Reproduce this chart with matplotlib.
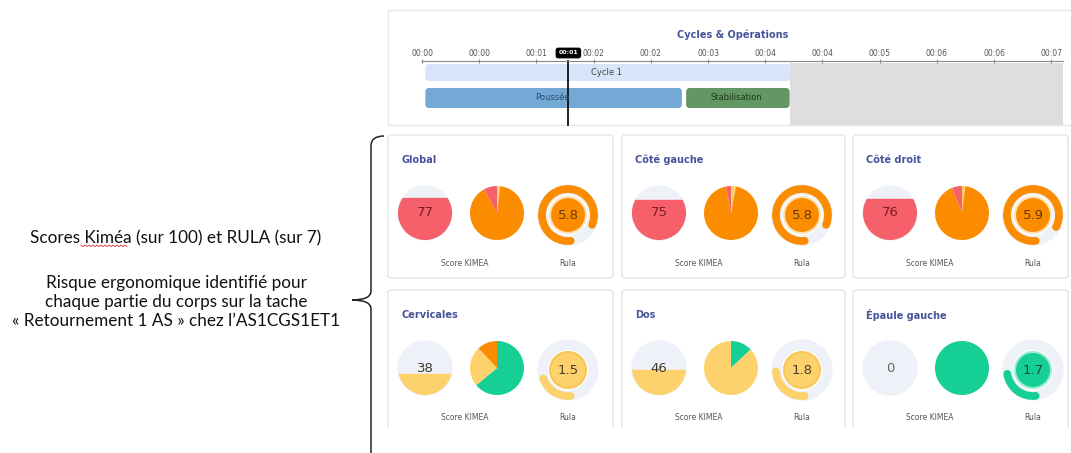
import matplotlib.pyplot as plt
from matplotlib.patches import Rectangle, FancyBboxPatch, Circle, Wedge, Arc, PathPatch
from matplotlib.path import Path

# ---- data ----
tick_times = [0.00, 0.68, 1.36, 2.04, 2.72, 3.40, 4.08, 4.76, 5.44, 6.12, 6.80, 7.48]
tick_labels = ['00:00', '00:00', '00:01', '00:02', '00:02', '00:03',
               '00:04', '00:04', '00:05', '00:06', '00:06', '00:07']
t_max = 7.62
cycle_names = ['Cycle 1']
cycle_start = [0.0]
cycle_end = [4.38]
op_names = ['Poussée', 'Stabilisation']
op_start = [0.0, 3.10]
op_end = [3.10, 4.38]
cursor_t = 1.74
cursor_label = '00:01'

card_titles = ['Global', 'Côté gauche', 'Côté droit', 'Cervicales', 'Dos', 'Épaule gauche']
kimea_scores = [77, 75, 76, 38, 46, 0]
rula_scores = [5.8, 5.8, 5.9, 1.5, 1.8, 1.7]
rula_max = 7
# pie shares, clockwise from 12 o'clock: green, yellow, orange, red
pie_green = [0, 0, 0, 64, 13, 100]
pie_yellow = [2, 3, 2, 24, 87, 0]
pie_orange = [90, 94, 92, 12, 0, 0]
pie_red = [8, 3, 6, 0, 0, 0]

# ---- styles ----
GREEN, YELLOW, ORANGE, RED = '#16cf94', '#fdd26c', '#fb8c00', '#f6606a'
LIGHT = '#eef2f8'
score_colors = [RED, RED, RED, YELLOW, YELLOW, YELLOW]
score_text = ['#7d1d22', '#7d1d22', '#7d1d22', '#403a30', '#403a30', '#666666']
rula_colors = [ORANGE, ORANGE, ORANGE, YELLOW, YELLOW, GREEN]
rula_edges = ['#ffe2b5', '#ffe2b5', '#ffe2b5', '#f7c757', '#f7c757', '#9eeccf']
rula_text = ['#6b3a05', '#6b3a05', '#6b3a05', '#4a4024', '#4a4024', '#0d4f37']
TITLE_C = '#44539a'

W, H = 1071, 453
fig = plt.figure(figsize=(W / 100, H / 100), dpi=100)
ax = fig.add_axes([0, 0, 1, 1])
ax.set_xlim(0, W)
ax.set_ylim(H, 0)
ax.axis('off')


def px_axes(cx, cy, half):
    a = fig.add_axes([(cx - half) / W, 1 - (cy + half) / H, 2 * half / W, 2 * half / H])
    a.set_xlim(-half, half)
    a.set_ylim(-half, half)
    a.set_aspect('equal')
    a.axis('off')
    return a


# ---- left annotation ----
ax.text(176, 238, 'Scores Kiméa (sur 100) et RULA (sur 7)', ha='center', va='center',
        fontsize=12.3, family='Lato', color='#111111')
ax.text(176, 302, 'Risque ergonomique identifié pour\nchaque partie du corps sur la tache\n'
        '« Retournement 1 AS » chez l’AS1CGS1ET1', ha='center', va='center',
        fontsize=12.3, family='Lato', color='#111111', linespacing=1.22)
# spell-check squiggle under "Kiméa"
zx = [81 + 2 * k for k in range(24)]
zy = [245 + (k % 2) * 1.6 for k in range(24)]
ax.plot(zx, zy, color='#e03030', lw=0.6)

# curly bracket
verts = [(384, 136), (371, 136), (371, 146), (371, 291), (371, 300), (352, 300),
         (352, 300), (371, 300), (371, 309), (371, 460)]
codes = [Path.MOVETO, Path.CURVE3, Path.CURVE3, Path.LINETO, Path.CURVE3, Path.CURVE3,
         Path.MOVETO, Path.CURVE3, Path.CURVE3, Path.LINETO]
ax.add_patch(PathPatch(Path(verts, codes), fill=False, lw=1.1, color='#222222'))

# ---- timeline panel ----
ax.add_patch(Rectangle((388, 10), 690, 115, facecolor='white', edgecolor='#e4e7ed', lw=1))
ax.text(733, 35, 'Cycles & Opérations', ha='center', va='center', fontsize=7,
        fontweight='bold', color=TITLE_C)

x0t, x1t = 422, 1063
px_per_s = (x1t - x0t) / t_max
ax_t = fig.add_axes([x0t / W, 1 - 125 / H, (x1t - x0t) / W, (125 - 61) / H])
ax_t.set_xlim(0, t_max)
ax_t.set_ylim(125, 61)
ax_t.patch.set_alpha(0)
for s in ['bottom', 'left', 'right']:
    ax_t.spines[s].set_visible(False)
ax_t.spines['top'].set_color('#8a8a8a')
ax_t.xaxis.tick_top()
ax_t.set_xticks(tick_times)
ax_t.set_xticklabels(tick_labels)
ax_t.tick_params(axis='x', labelsize=5.5, labelcolor='#555555', color='#8a8a8a',
                 length=3, direction='inout', pad=1)
ax_t.set_yticks([])

ax_t.axvspan(cycle_end[-1], t_max, ymin=0, ymax=0.97, color='#dedede', lw=0)


def tl_bar(s, e, yc, h, color):
    ax_t.add_patch(FancyBboxPatch((s, yc - h / 2), e - s, h,
                                  boxstyle='round,pad=0,rounding_size=0.045',
                                  mutation_aspect=px_per_s, facecolor=color, lw=0))


for name, s, e in zip(cycle_names, cycle_start, cycle_end):
    tl_bar(s + 0.04, e, 72.5, 17, '#d6e6f8')
    ax_t.text((s + e) / 2, 72.5, name, ha='center', va='center', fontsize=6, color='#444444')
op_colors = ['#74a9d6', '#629662']
op_text = ['#2b4a66', '#1f3a20']
for name, s, e, c, tc in zip(op_names, op_start, op_end, op_colors, op_text):
    tl_bar(s + 0.04, e - 0.01, 98, 20, c)
    ax_t.text((s + e) / 2, 98, name, ha='center', va='center', fontsize=6, color=tc)

ax_t.plot([cursor_t, cursor_t], [61, 125], color='#111111', lw=1.3, clip_on=False)
ax_t.text(cursor_t, 53, cursor_label, ha='center', va='center', fontsize=4.5,
          color='white', fontweight='bold', clip_on=False,
          bbox=dict(boxstyle='round,pad=0.35,rounding_size=0.3', fc='black', ec='black'))

# ---- score cards ----
card_x = [388, 622, 853]
card_w = [225, 223, 215]
row_y = [135, 290]
row_h = [143, 160]

for i, title in enumerate(card_titles):
    r, c = divmod(i, 3)
    x0, y0 = card_x[c], row_y[r]
    ax.add_patch(FancyBboxPatch((x0, y0), card_w[c], row_h[r],
                                boxstyle='round,pad=0,rounding_size=3',
                                facecolor='white', edgecolor='#e2e5eb', lw=1))
    ax.text(x0 + 13, y0 + 25, title, ha='left', va='center', fontsize=7,
            fontweight='bold', color=TITLE_C)
    cy = y0 + 78

    # KIMEA score: filled disc
    a = px_axes(x0 + 37, cy, 30)
    bg = Circle((0, 0), 27, color=LIGHT)
    a.add_patch(bg)
    fill = Rectangle((-27, -27), 54, 54 * kimea_scores[i] / 100, color=score_colors[i])
    a.add_patch(fill)
    fill.set_clip_path(bg)
    a.text(0, 0, str(kimea_scores[i]), ha='center', va='center', fontsize=9.5,
           color=score_text[i])

    # KIMEA distribution pie
    a = px_axes(x0 + 109, cy, 30)
    vals = [pie_green[i], pie_yellow[i], pie_orange[i], pie_red[i]]
    a.pie(vals, colors=[GREEN, YELLOW, ORANGE, RED], startangle=90, counterclock=False,
          radius=27, wedgeprops=dict(linewidth=0))
    a.set_xlim(-30, 30)
    a.set_ylim(-30, 30)

    # RULA gauge
    a = px_axes(x0 + 180, cy + 2, 32)
    a.add_patch(Wedge((0, 0), 30, 0, 360, width=9, color=LIGHT))
    ang = rula_scores[i] / rula_max * 360
    arc = Arc((0, 0), 52, 52, theta1=-84 - ang, theta2=-84, color=rula_colors[i], lw=5.6)
    arc.set_capstyle('round')
    a.add_patch(arc)
    a.add_patch(Circle((0, 0), 18, facecolor=rula_colors[i], edgecolor=rula_edges[i], lw=1.5))
    a.text(0, 0, str(rula_scores[i]), ha='center', va='center', fontsize=9.5,
           color=rula_text[i])

    ax.text(x0 + 77, y0 + 128, 'Score KIMEA', ha='center', va='center', fontsize=5.5,
            color='#555555')
    ax.text(x0 + 180, y0 + 128, 'Rula', ha='center', va='center', fontsize=5.5,
            color='#555555')

# bottom of the second row is cut off in the screenshot
ax.add_patch(Rectangle((380, 428), 700, 30, facecolor='white', edgecolor='none', zorder=5))

fig.savefig('out.png', dpi=100)
